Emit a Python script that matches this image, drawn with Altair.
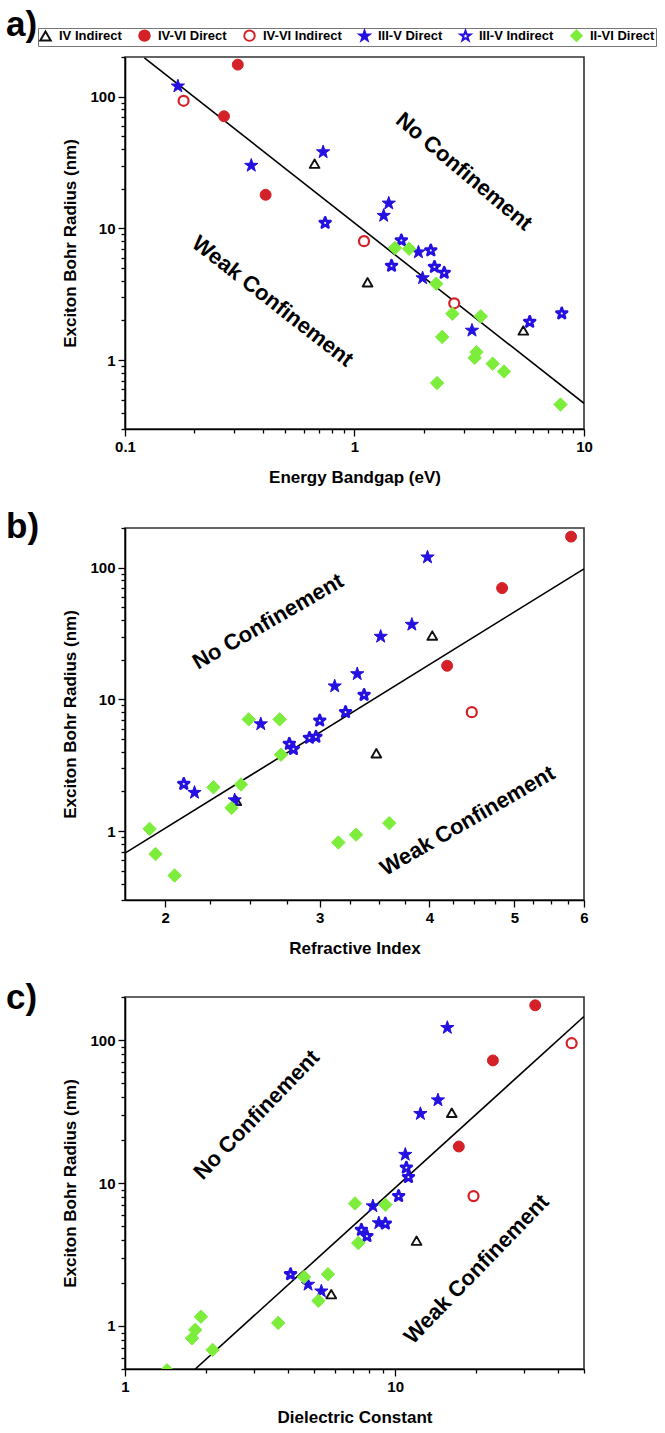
import altair as alt
import pandas as pd

TYPES = ["IV Indirect", "IV-VI Direct", "IV-VI Indirect", "III-V Direct", "III-V Indirect", "II-VI Direct"]
STROKES = ["#111111", "#d42027", "#d42027", "#2410e0", "#2410e0", "#7ded3c"]
FILLS = ["#ffffff", "#d42027", "#ffffff", "#2410e0", "#ffffff", "#7ded3c"]
STAR = "M0,-1L0.235,-0.324L0.951,-0.309L0.38,0.124L0.588,0.809L0,0.4L-0.588,0.809L-0.38,0.124L-0.951,-0.309L-0.235,-0.324Z"
SHAPES = ["triangle-up", "circle", "circle", STAR, STAR, "diamond"]
SIZES = [95, 120, 100, 195, 125, 180]
WIDTHS = [1.9, 1.0, 2.2, 1.0, 2.8, 1.0]

# ---------- Panel a: Energy bandgap (eV) vs exciton Bohr radius (nm)
a_iv_ind_x = [0.67, 1.14, 5.44]
a_iv_ind_y = [31, 3.9, 1.68]
a_ivvi_dir_x = [0.27, 0.31, 0.41]
a_ivvi_dir_y = [71, 175, 18]
a_ivvi_ind_x = [0.18, 1.1, 2.72]
a_ivvi_ind_y = [93, 8, 2.7]
a_iiiv_dir_x = [0.17, 0.355, 0.73, 1.41, 1.34, 1.9, 1.98, 3.25]
a_iiiv_dir_y = [120, 30, 38, 15.5, 12.5, 6.6, 4.2, 1.68]
a_iiiv_ind_x = [0.745, 1.6, 2.15, 1.45, 2.23, 2.46, 5.8, 8.0]
a_iiiv_ind_y = [11, 8.1, 6.8, 5.2, 5.1, 4.6, 1.95, 2.26]
a_iivi_x = [1.5, 1.73, 2.27, 2.67, 3.55, 2.41, 3.4, 3.34, 4.0, 4.48, 2.29, 7.9]
a_iivi_y = [7.1, 7.0, 3.8, 2.25, 2.15, 1.5, 1.15, 1.04, 0.94, 0.82, 0.67, 0.46]
a_fit_x = [0.1215, 10]
a_fit_y = [197, 0.47]

# ---------- Panel b: Refractive index
b_iv_ind_x = [4.03, 3.48, 2.41]
b_iv_ind_y = [30.5, 3.9, 1.7]
b_ivvi_dir_x = [4.19, 4.84, 5.8]
b_ivvi_dir_y = [18, 70, 172]
b_ivvi_ind_x = [4.47]
b_ivvi_ind_y = [8.0]
b_iiiv_dir_x = [2.16, 2.4, 2.57, 3.12, 3.31, 3.52, 3.82, 3.98]
b_iiiv_dir_y = [1.96, 1.72, 6.5, 12.6, 15.6, 30, 37, 120]
b_iiiv_ind_x = [2.1, 2.77, 2.8, 2.92, 2.97, 3.0, 3.21, 3.37]
b_iiiv_ind_y = [2.28, 4.6, 4.2, 5.1, 5.2, 6.9, 8.0, 10.8]
b_iivi_x = [1.92, 1.95, 2.05, 2.27, 2.44, 2.38, 2.49, 2.7, 2.71, 3.15, 3.3, 3.6]
b_iivi_y = [1.04, 0.67, 0.46, 2.15, 2.26, 1.5, 7.05, 7.05, 3.8, 0.82, 0.94, 1.15]
b_fit_x = [1.8, 6]
b_fit_y = [0.68, 98]

# ---------- Panel c: Dielectric constant
c_iv_ind_x = [16.2, 12.0, 5.8]
c_iv_ind_y = [31, 3.95, 1.67]
c_ivvi_dir_x = [17.2, 23, 33]
c_ivvi_dir_y = [18, 72, 175]
c_ivvi_ind_x = [19.5, 45]
c_ivvi_ind_y = [8.1, 95]
c_iiiv_dir_x = [4.76, 5.33, 8.27, 8.7, 10.9, 12.4, 14.4, 15.6]
c_iiiv_dir_y = [1.95, 1.75, 6.9, 5.25, 15.8, 30.5, 38, 122]
c_iiiv_ind_x = [4.1, 7.5, 7.86, 9.2, 10.3, 11.0, 11.2]
c_iiiv_ind_y = [2.3, 4.7, 4.25, 5.2, 8.1, 12.8, 11]
c_iivi_x = [1.43, 1.77, 1.82, 1.91, 2.11, 3.69, 4.6, 5.2, 5.64, 7.1, 7.3, 9.2]
c_iivi_y = [0.49, 0.82, 0.94, 1.16, 0.68, 1.05, 2.2, 1.5, 2.3, 7.2, 3.8, 7.05]
c_fit_x = [1.82, 50]
c_fit_y = [0.5, 146]

# region labels (text, x, y, angle)
a_labels = [("No Confinement", 3.0, 27, 40), ("Weak Confinement", 0.44, 2.8, 38)]
b_labels = [("No Confinement", 2.62, 39, 330), ("Weak Confinement", 4.42, 1.2, 330)]
c_labels = [("No Confinement", 3.07, 30, 314), ("Weak Confinement", 20, 2.5, 314)]

FONT = "Liberation Sans"
SIZE_MAP = dict(zip(TYPES, SIZES))
WIDTH_MAP = dict(zip(TYPES, WIDTHS))


def points_df(groups):
    rows = []
    for t, (xs, ys) in zip(TYPES, groups):
        for x, y in zip(xs, ys):
            rows.append({"x": x, "y": y, "type": t})
    df = pd.DataFrame(rows)
    df["sz"] = df["type"].map(SIZE_MAP)
    df["sw"] = df["type"].map(WIDTH_MAP)
    return df


def major_test(vals):
    return "indexof([" + ",".join(str(v) for v in vals) + "], datum.value) >= 0"


def make_axis(title, major, minor, orient, title_pad):
    test = major_test(major)
    return alt.Axis(
        title=title,
        values=major + minor,
        labelExpr=f"{test} ? format(datum.value, '~g') : ''",
        tickSize={"condition": {"test": test, "value": 7}, "value": 4},
        labelOverlap=False,
        labelFlush=False,
        grid=False,
        orient=orient,
        titlePadding=title_pad,
    )


def panel(label, title_dy, pts, fit_x, fit_y, labels, xtitle, xdom, xmaj, xmin, ydom, ymaj, ymin, legend):
    df = points_df(pts)
    xs = alt.Scale(type="log", domain=xdom, nice=False)
    ys = alt.Scale(type="log", domain=ydom, nice=False)
    xax = make_axis(xtitle, xmaj, xmin, "bottom", 15)
    yax = make_axis("Exciton Bohr Radius (nm)", ymaj, ymin, "left", 10)
    if legend:
        leg = alt.Legend(
            orient="none", legendX=-87, legendY=-29, direction="horizontal", columns=6,
            title=None, labelFont=FONT, labelFontSize=13, labelFontWeight="bold",
            symbolSize=110, symbolStrokeWidth=2, labelOffset=7, columnPadding=13,
            strokeColor="#777777", padding=1, fillColor="white",
        )
    else:
        leg = None
    pts_chart = alt.Chart(df).mark_point(opacity=1, clip=True, strokeJoin="round").encode(
        x=alt.X("x:Q", scale=xs, axis=xax),
        y=alt.Y("y:Q", scale=ys, axis=yax),
        shape=alt.Shape("type:N", scale=alt.Scale(domain=TYPES, range=SHAPES), legend=leg, sort=TYPES),
        color=alt.Color("type:N", scale=alt.Scale(domain=TYPES, range=STROKES), legend=leg, sort=TYPES),
        fill=alt.Fill("type:N", scale=alt.Scale(domain=TYPES, range=FILLS), legend=leg, sort=TYPES),
        size=alt.Size("sz:Q", scale=None),
        strokeWidth=alt.StrokeWidth("sw:Q", scale=None),
    )
    fit = alt.Chart(pd.DataFrame({"x": fit_x, "y": fit_y})).mark_line(
        color="black", strokeWidth=1.6, clip=True
    ).encode(x=alt.X("x:Q", scale=xs), y=alt.Y("y:Q", scale=ys))
    layers = [fit]
    for text, tx, ty, ang in labels:
        layers.append(
            alt.Chart(pd.DataFrame({"x": [tx], "y": [ty], "t": [text]})).mark_text(
                angle=ang, font=FONT, fontSize=22, fontWeight="bold", color="black"
            ).encode(x=alt.X("x:Q", scale=xs), y=alt.Y("y:Q", scale=ys), text="t:N")
        )
    layers.append(pts_chart)
    return alt.layer(*layers).properties(
        width=459, height=372,
        title=alt.TitleParams(
            label, anchor="start", frame="group", orient="top", fontSize=35, fontWeight="bold",
            font=FONT, dx=-119, dy=title_dy, offset=4, color="black",
        ),
    )


ymin_ab = [0.3, 0.4, 0.5, 0.6, 0.7, 0.8, 0.9, 2, 3, 4, 5, 6, 7, 8, 9, 20, 30, 40, 50, 60, 70, 80, 90, 200]
ymin_c = [0.5, 0.6, 0.7, 0.8, 0.9, 2, 3, 4, 5, 6, 7, 8, 9, 20, 30, 40, 50, 60, 70, 80, 90, 200]

pa = panel(
    "a)", 19,
    [(a_iv_ind_x, a_iv_ind_y), (a_ivvi_dir_x, a_ivvi_dir_y), (a_ivvi_ind_x, a_ivvi_ind_y),
     (a_iiiv_dir_x, a_iiiv_dir_y), (a_iiiv_ind_x, a_iiiv_ind_y), (a_iivi_x, a_iivi_y)],
    a_fit_x, a_fit_y, a_labels, "Energy Bandgap (eV)", [0.1, 10], [0.1, 1, 10],
    [0.2, 0.3, 0.4, 0.5, 0.6, 0.7, 0.8, 0.9, 2, 3, 4, 5, 6, 7, 8, 9],
    [0.3, 200], [1, 10, 100], ymin_ab, True,
)
pb = panel(
    "b)", 28,
    [(b_iv_ind_x, b_iv_ind_y), (b_ivvi_dir_x, b_ivvi_dir_y), (b_ivvi_ind_x, b_ivvi_ind_y),
     (b_iiiv_dir_x, b_iiiv_dir_y), (b_iiiv_ind_x, b_iiiv_ind_y), (b_iivi_x, b_iivi_y)],
    b_fit_x, b_fit_y, b_labels, "Refractive Index", [1.8, 6], [2, 3, 4, 5, 6],
    [2.25, 2.5, 2.75, 3.25, 3.5, 3.75, 4.25, 4.5, 4.75, 5.25, 5.5, 5.75],
    [0.3, 200], [1, 10, 100], ymin_ab, False,
)
pc = panel(
    "c)", 30,
    [(c_iv_ind_x, c_iv_ind_y), (c_ivvi_dir_x, c_ivvi_dir_y), (c_ivvi_ind_x, c_ivvi_ind_y),
     (c_iiiv_dir_x, c_iiiv_dir_y), (c_iiiv_ind_x, c_iiiv_ind_y), (c_iivi_x, c_iivi_y)],
    c_fit_x, c_fit_y, c_labels, "Dielectric Constant", [1, 50], [1, 10],
    [2, 3, 4, 5, 6, 7, 8, 9, 20, 30, 40, 50],
    [0.5, 200], [1, 10, 100], ymin_c, False,
)

chart = alt.vconcat(pa, pb, pc, spacing=23).resolve_legend(
    shape="independent", color="independent", fill="independent",
).properties(
    padding={"left": 5, "top": 6, "right": 0, "bottom": 0}, background="white"
).configure_axis(
    labelFont=FONT, labelFontSize=15, labelFontWeight="bold", labelColor="black",
    titleFont=FONT, titleFontSize=17, titleFontWeight="bold", titleColor="black",
    domainColor="black", domainWidth=1.6, tickColor="black", tickWidth=1.3,
    labelPadding=3,
).configure_view(stroke="#333333", strokeWidth=1.6)

chart.save("out.html", embed_options={"renderer": "svg", "actions": False})
